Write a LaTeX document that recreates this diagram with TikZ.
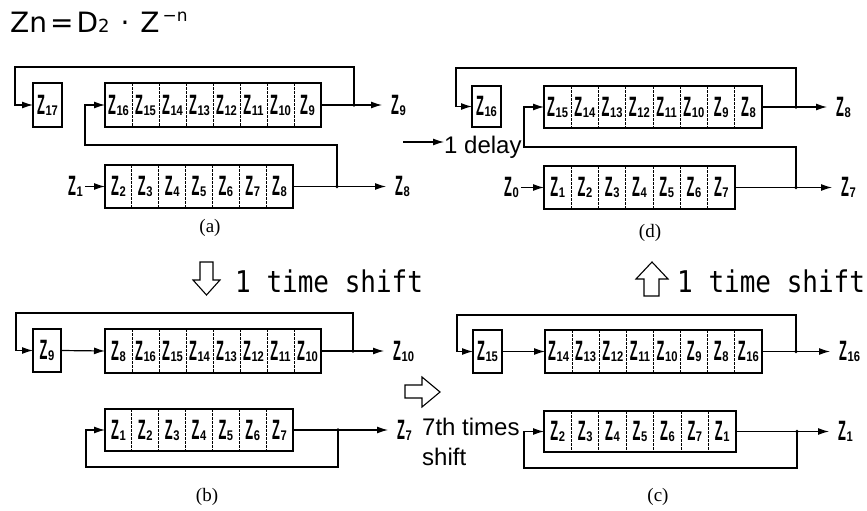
\documentclass[tikz,border=0pt]{standalone}
\usepackage{fontspec}
\usepackage{graphicx}
\setmainfont{Liberation Serif}
\newfontfamily\labfont{Liberation Sans}
\newfontfamily\monofont{DejaVu Sans Mono}
\newfontfamily\titlefont{DejaVu Sans}
\usetikzlibrary{arrows.meta}
\newcommand{\zl}[1]{{\labfont\bfseries\scalebox{0.46}[1]{\fontsize{28}{28}\selectfont Z}\kern0.6pt\raisebox{-1pt}{\scalebox{0.8}[1]{\fontsize{14}{14}\selectfont #1}}}}
\newcommand{\shiftreg}[6]{%
  \pgfmathsetmacro\rw{#4-#2}\pgfmathsetmacro\rh{#5-#3}%
  \node[regbox, minimum width=\rw pt, minimum height=\rh pt, anchor=north west] (#1) at (#2,#3) {};
  \foreach \l [count=\i] in {#6} {\xdef\regn{\i}}
  \pgfmathsetmacro\cw{\rw/\regn}
  \foreach \l [count=\i] in {#6} {
    \node[cell] (#1-\i) at ({#2+(\i-0.5)*\cw},{(#3+#5)/2}) {\zl{\l}};
    \ifnum\i<\regn\relax \draw[divider] ({#2+\i*\cw},#3) -- ({#2+\i*\cw},#5);\fi
  }
}
\begin{document}
\begin{tikzpicture}[x=1pt,y=-1pt,
  regbox/.style={draw, line width=2pt, inner sep=0pt, outer sep=0pt},
  cell/.style={inner sep=0pt},
  divider/.style={line width=0.8pt, dash pattern=on 2.5pt off 1.5pt},
  conn/.style={line width=1.2pt},
  arr/.style={conn, -{Latex[length=11pt,width=7pt]}},
  outarr/.style={arr, shorten >=9pt},
  inarr/.style={arr, shorten <=2pt},
  lab/.style={inner sep=0pt},
  captxt/.style={inner sep=0pt, font=\fontsize{19}{19}\selectfont},
  hollow/.style={line width=1.1pt, line join=miter},
  bigtxt/.style={inner sep=0pt, anchor=base west},
]
\useasboundingbox (0,0) rectangle (867,511);
% title
\node[bigtxt] (title) at (10,33) {\titlefont\fontsize{28}{28}\selectfont Zn\kern3pt=\kern3pt D{\fontsize{18}{18}\selectfont 2}\kern11pt·\kern11pt Z\kern3pt\raisebox{11pt}{\fontsize{17}{17}\selectfont −n}};

% ---------- panel (a)
\node[regbox, minimum width=29pt, minimum height=44pt, anchor=north west] (a17) at (33,83) {\zl{17}};
\shiftreg{ra1}{105}{83}{321}{127}{16,15,14,13,12,11,10,9}
\shiftreg{ra2}{105}{165}{293}{208}{2,3,4,5,6,7,8}
\coordinate (ja1) at (354,105);
\coordinate (ja2) at (337,186.5);
\coordinate (ta) at (15,67);
\coordinate (fa) at (85,145);
\node[lab, anchor=west] (oa1) at (391,105) {\zl{9}};
\node[lab, anchor=west] (oa2) at (395,186.5) {\zl{8}};
\node[lab, anchor=east] (ia2) at (83,186.5) {\zl{1}};
\draw[conn] (ra1.east) -- (ja1);
\draw[outarr] (ja1) -- (oa1.west);
\draw[arr] (ja1) |- (ta) |- (a17.west);
\draw[conn] (ra2.east) -- (ja2);
\draw[outarr] (ja2) -- (oa2.west);
\draw[arr] (ja2) |- (fa) |- (ra1.west);
\draw[inarr] (ia2.east) -- (ra2.west);
\fill (ja1) circle (1.8); \fill (ja2) circle (1.8);
\node[captxt] (capa) at (210,228) {(a)};

% ---------- panel (d)
\node[regbox, minimum width=29pt, minimum height=41pt, anchor=north west] (d16) at (472,86) {\zl{16}};
\shiftreg{rd1}{544}{86}{762}{128}{15,14,13,12,11,10,9,8}
\shiftreg{rd2}{544}{166}{735}{209}{1,2,3,4,5,6,7}
\coordinate (jd1) at (796,107);
\coordinate (jd2) at (796,187.5);
\coordinate (td) at (456,68);
\coordinate (fd) at (524,147);
\node[lab, anchor=west] (od1) at (836,107) {\zl{8}};
\node[lab, anchor=west] (od2) at (841,187.5) {\zl{7}};
\node[lab, anchor=east] (id2) at (519,187.5) {\zl{0}};
\draw[conn] (rd1.east) -- (jd1);
\draw[outarr] (jd1) -- (od1.west);
\draw[arr] (jd1) |- (td) |- (d16.west);
\draw[conn] (rd2.east) -- (jd2);
\draw[outarr] (jd2) -- (od2.west);
\draw[arr] (jd2) |- (fd) |- (rd1.west);
\draw[inarr] (id2.east) -- (rd2.west);
\fill (jd1) circle (1.8); \fill (jd2) circle (1.8);
\node[captxt] (capd) at (650,233) {(d)};
\coordinate (ds) at (403,142);
\node[bigtxt] (delay) at (444,153) {\labfont\fontsize{24}{24}\selectfont 1 delay};
\draw[arr] (ds) -- (ds -| delay.west);

% ---------- panel (b)
\node[regbox, minimum width=28pt, minimum height=43pt, anchor=north west] (b9) at (33,329) {\zl{9}};
\shiftreg{rb1}{105}{329}{321}{373}{8,16,15,14,13,12,11,10}
\shiftreg{rb2}{105}{409}{293}{451}{1,2,3,4,5,6,7}
\coordinate (jb1) at (353,351);
\coordinate (jb2) at (338,430);
\coordinate (tb) at (16,313);
\coordinate (fb) at (86,467);
\node[lab, anchor=west] (ob1) at (393,351) {\zl{10}};
\node[lab, anchor=west] (ob2) at (397,430) {\zl{7}};
\draw[conn] (rb1.east) -- (jb1);
\draw[outarr] (jb1) -- (ob1.west);
\draw[arr] (jb1) |- (tb) |- (b9.west);
\draw[arr] (b9.east) -- (rb1.west);
\draw[conn] (rb2.east) -- (jb2);
\draw[outarr] (jb2) -- (ob2.west);
\draw[arr] (jb2) |- (fb) |- (rb2.west);
\fill (jb1) circle (1.8); \fill (jb2) circle (1.8);
\node[captxt] (capb) at (207,497) {(b)};

% ---------- panel (c)
\node[regbox, minimum width=29pt, minimum height=43pt, anchor=north west] (c15) at (473,330) {\zl{15}};
\shiftreg{rc1}{545}{330}{762}{373}{14,13,12,11,10,9,8,16}
\shiftreg{rc2}{544}{411}{736}{452}{2,3,4,5,6,7,1}
\coordinate (jc1) at (796,351.5);
\coordinate (jc2) at (797,431.5);
\coordinate (tc) at (457,315);
\coordinate (fc) at (524,468);
\node[lab, anchor=west] (oc1) at (839,351.5) {\zl{16}};
\node[lab, anchor=west] (oc2) at (838,431.5) {\zl{1}};
\draw[conn] (rc1.east) -- (jc1);
\draw[outarr] (jc1) -- (oc1.west);
\draw[arr] (jc1) |- (tc) |- (c15.west);
\draw[arr] (c15.east) -- (rc1.west);
\draw[conn] (rc2.east) -- (jc2);
\draw[outarr] (jc2) -- (oc2.west);
\draw[arr] (jc2) |- (fc) |- (rc2.west);
\fill (jc1) circle (1.8); \fill (jc2) circle (1.8);
\node[captxt] (capc) at (658,497) {(c)};

% ---------- shift arrows and texts
\draw[hollow] (200,262) -- (213,262) -- (213,280) -- (220,280) -- (206.5,295) -- (193,280) -- (200,280) -- cycle;
\node[bigtxt] (tsb) at (235,292) {\scalebox{1}[1.15]{\monofont\fontsize{26}{26}\selectfont 1 time shift}};
\draw[hollow] (644,296) -- (659,296) -- (659,279) -- (668,279) -- (652,262) -- (636,279) -- (644,279) -- cycle;
\node[bigtxt] (tsc) at (677,292) {\scalebox{1}[1.15]{\monofont\fontsize{26}{26}\selectfont 1 time shift}};
\draw[hollow] (405,385) -- (422,385) -- (422,377) -- (440,392) -- (422,407) -- (422,398) -- (405,398) -- cycle;
\node[bigtxt] (sev) at (422,435) {\labfont\fontsize{24}{24}\selectfont 7th times};
\node[bigtxt] (sevb) at (422,465) {\labfont\fontsize{24}{24}\selectfont shift};
\end{tikzpicture}
\end{document}
